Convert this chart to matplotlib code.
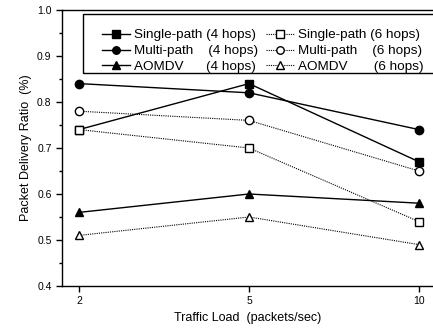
import numpy as np
import matplotlib
matplotlib.use('Agg')
import matplotlib.pyplot as plt
from matplotlib.patches import Rectangle

plt.rcParams['font.family'] = ['Liberation Sans', 'DejaVu Sans']

# data
loads = ['2', '5', '10']
single_4 = [0.74, 0.84, 0.67]
multi_4 = [0.84, 0.82, 0.74]
aomdv_4 = [0.56, 0.60, 0.58]
single_6 = [0.74, 0.70, 0.54]
multi_6 = [0.78, 0.76, 0.65]
aomdv_6 = [0.51, 0.55, 0.49]

labels_4 = ['Single-path (4 hops)', 'Multi-path    (4 hops)', 'AOMDV      (4 hops)']
labels_6 = ['Single-path (6 hops)', 'Multi-path    (6 hops)', 'AOMDV       (6 hops)']

x = np.arange(len(loads))

W, H = 433, 330
fig = plt.figure(figsize=(W / 100, H / 100), dpi=100)
ax = fig.add_axes([62/W, 1 - 286/H, 1 - 62/W, (286 - 10)/H])

h = []
for ys, m, lab in zip([single_4, multi_4, aomdv_4], ['s', 'o', '^'], labels_4):
    l, = ax.plot(x, ys, color='black', lw=1.0, marker=m, ms=6,
                 markerfacecolor='black', label=lab)
    h.append(l)
for ys, m, lab in zip([single_6, multi_6, aomdv_6], ['s', 'o', '^'], labels_6):
    l, = ax.plot(x, ys, color='black', lw=0.8, ls=(0, (1, 1)), marker=m, ms=6,
                 markerfacecolor='white', label=lab)
    h.append(l)

ax.set_xlim(-0.1, (433 - 79) / 170)
ax.set_ylim(0.4, 1.0)
ax.set_xticks(x)
ax.set_xticklabels(loads)
ax.set_yticks(np.arange(0.4, 1.01, 0.1))
ax.set_yticks(np.arange(0.45, 1.0, 0.1), minor=True)
ax.tick_params(axis='both', which='major', direction='out', length=4, width=1, labelsize=7.5)
ax.tick_params(axis='y', which='minor', direction='out', length=2.5, width=1)
ax.spines['right'].set_visible(False)
for s in ['left', 'bottom', 'top']:
    ax.spines[s].set_linewidth(1.0)

ax.set_xlabel('Traffic Load  (packets/sec)', fontsize=9)
ax.set_ylabel('Packet Delivery Ratio  (%)', fontsize=9)

# legend box (frame drawn separately, it runs off the right edge)
box = Rectangle((83 / W, 1 - 73 / H), 0.95, (73 - 14) / H, transform=fig.transFigure,
                fill=False, edgecolor='black', lw=1.0, clip_on=False)
fig.patches.append(box)

leg = fig.legend(h, labels_4 + labels_6, ncol=2, loc='upper left',
                 bbox_to_anchor=(102 / W, 1 - 29 / H), fontsize=9.7,
                 frameon=False, handlelength=2.1, handletextpad=0.25,
                 columnspacing=0.6, labelspacing=0.25, borderpad=0,
                 borderaxespad=0, markerscale=0.9)

fig.savefig('out.png', dpi=100)
